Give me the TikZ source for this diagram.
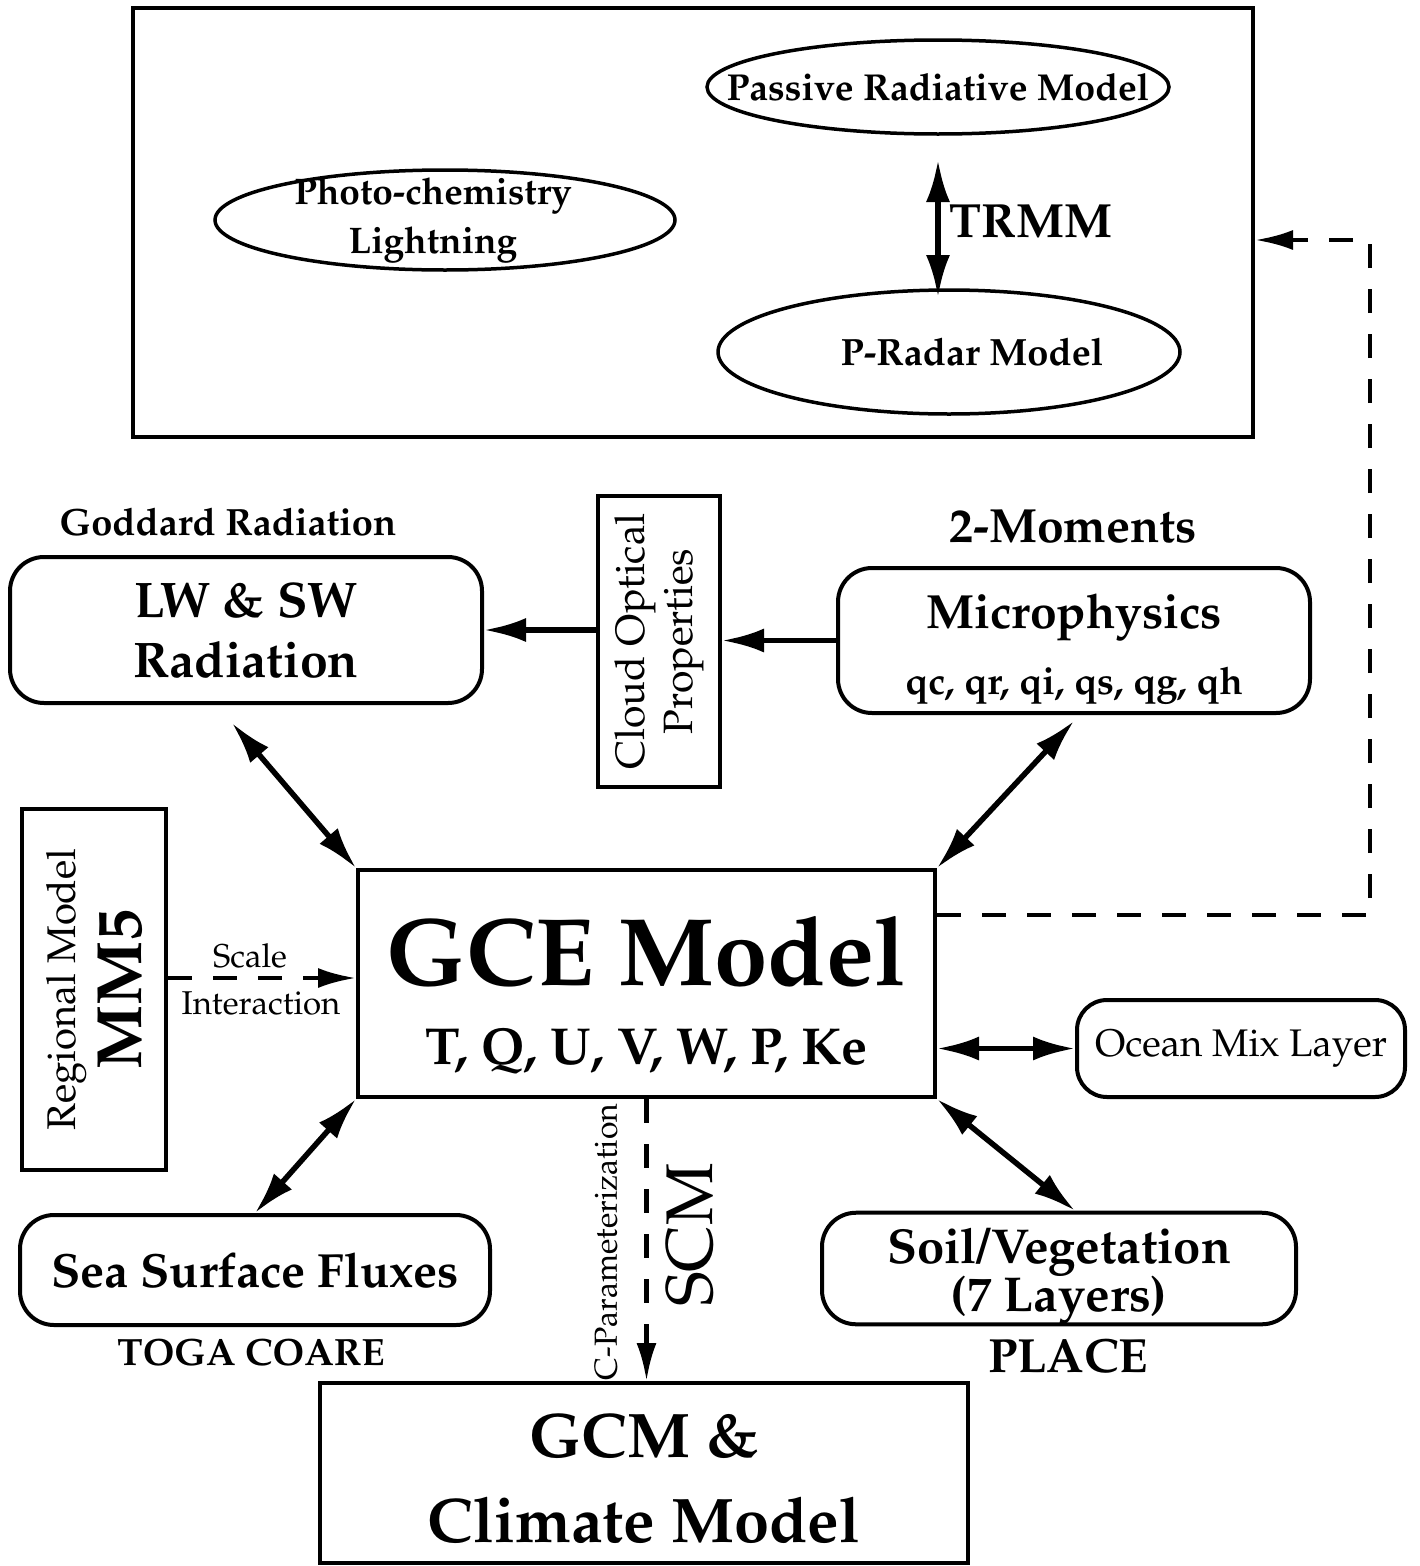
\documentclass[tikz,border=0pt]{standalone}
\usepackage[T1]{fontenc}
\usepackage{mathpazo}
\usepackage{tikz}
\usetikzlibrary{positioning,shapes.geometric,arrows.meta}

\newcommand{\pts}[2]{\fontsize{#1pt}{#2pt}\selectfont}

\tikzset{
  box/.style={draw, line width=4pt, inner sep=0pt, align=center},
  rbox/.style={box, rounded corners=34pt},
  oval/.style={ellipse, draw, line width=3.5pt, inner sep=0pt},
  tip/.style={-{Latex[length=42pt,width=24pt]}},
  link/.style={line width=5.5pt, tip},
  both/.style={line width=5.5pt, {Latex[length=42pt,width=24pt]}-{Latex[length=42pt,width=24pt]}},
  dashlink/.style={line width=4.5pt, -{Latex[length=38pt,width=20pt]}, dash pattern=on 24pt off 21pt},
  tag/.style={font=\bfseries\pts{40}{46}}
}

\begin{document}
\begin{tikzpicture}[x=1pt, y=-1pt]

\useasboundingbox (0,0) rectangle (1419,1566);

% TRMM box
\node[box, minimum width=1120pt, minimum height=429pt] (trmmbox) at (693,222.5) {};
\node[oval, minimum width=462pt, minimum height=94pt,
  label={[font=\bfseries\pts{37.5}{42}]center:Passive Radiative Model}] (prm) at (938,87) {};
\node[oval, minimum width=460pt, minimum height=100pt,
  label={[font=\bfseries\pts{37}{49}, align=center, xshift=-12pt]center:Photo-chemistry\\Lightning}] (photo) at (445,220) {};
\node[oval, minimum width=462pt, minimum height=124pt,
  label={[font=\bfseries\pts{38}{42}, xshift=23pt]center:P-Radar Model}] (prad) at (949,352) {};

\coordinate (trmmtop) at (938,160);
\coordinate (trmmbot) at (938,297);
\draw[both] (trmmtop) -- (trmmbot);
\node[font=\bfseries\pts{48}{54}] (trmm) at (1031,222) {TRMM};

% Upper row
\node[tag, font=\bfseries\pts{38}{44}] (goddard) at (228,522) {Goddard Radiation};
\node[rbox, minimum width=472pt, minimum height=146pt, font=\bfseries\pts{50}{60}] (lw) at (246,630) {LW \& SW\\Radiation};
\node[box, rotate=90, minimum width=291pt, minimum height=122pt, font=\pts{41}{48}] (cloud) at (659,641.5) {Cloud Optical\\Properties};
\node[tag, font=\bfseries\pts{48}{52}] (moments) at (1073,527) {2-Moments};
\node[rbox, minimum width=472pt, minimum height=145pt, font=\bfseries\pts{48}{66}] (micro) at (1074,640.5)
  {\rule{0pt}{51pt}Microphysics\\\pts{38}{44}qc, qr, qi, qs, qg, qh};

\draw[link] (micro.west) -- (micro.west -| cloud.south);
\draw[link] (cloud.north |- lw.east) -- (lw.east);

% GCE model
\node[box, minimum width=577pt, minimum height=227pt, font=\bfseries\pts{96}{79}] (gce) at (646.5,983.5)
  {\rule{0pt}{92pt}GCE Model\\\pts{52}{60}T, Q, U, V, W, P, Ke};

\draw[both] ([xshift=-14pt,yshift=-18pt]lw.south) -- (gce.north west);
\draw[both] ([yshift=-6pt]micro.south) -- (gce.north east);

% Regional model
\node[box, rotate=90, minimum width=361pt, minimum height=144pt, font=\pts{40}{66}] (mm5) at (94,989.5)
  {Regional Model\\\bfseries\pts{64}{70}MM5};
\coordinate (scly) at (0,978);
\draw[dashlink] (mm5.south |- scly) -- (gce.west |- scly);
\node[font=\pts{33}{36}] (scale) at (250,956) {Scale};
\node[font=\pts{33}{36}] (inter) at (261,1003) {Interaction};

% Ocean
\node[rbox, rounded corners=30pt, minimum width=328pt, minimum height=97pt, font=\pts{38.5}{44}] (ocean) at (1241,1048.5) {Ocean Mix Layer};
\draw[both] (gce.east |- ocean.west) -- (ocean.west);

% Lower row
\node[rbox, minimum width=470pt, minimum height=110pt, font=\bfseries\pts{48}{52}] (sea) at (255,1270) {Sea Surface Fluxes};
\node[tag, font=\bfseries\pts{38}{44}] (toga) at (251,1352) {TOGA COARE};
\node[rbox, minimum width=474pt, minimum height=107pt, font=\bfseries\pts{49}{48}] (soil) at (1059,1268.5) {\rule{0pt}{51pt}Soil/Vegetation\\(7 Layers)};
\node[tag, font=\bfseries\pts{48}{52}] (place) at (1068,1356) {PLACE};

\draw[both] (gce.south west) -- (sea.north);
\draw[both] (gce.south east) -- ([xshift=16pt]soil.north);

% GCM
\node[box, minimum width=648pt, minimum height=180pt, font=\bfseries\pts{63}{85}] (gcm) at (644,1473) {\rule{0pt}{55pt}GCM \&\\Climate Model};
\draw[dashlink] (gce.south) -- (gce.south |- gcm.north);
\node[rotate=90, font=\pts{32}{36}] (cparam) at (606,1242) {C-Parameterization};
\node[rotate=90, font=\pts{66}{70}] (scm) at (690,1235) {SCM};

% Feedback to TRMM box
\coordinate (fbA) at (1370,915);
\coordinate (fbB) at (1370,240);
\draw[dashlink] (gce.east |- fbA) -- (fbA) -- (fbB) -- (trmmbox.east |- fbB);

\end{tikzpicture}
\end{document}
